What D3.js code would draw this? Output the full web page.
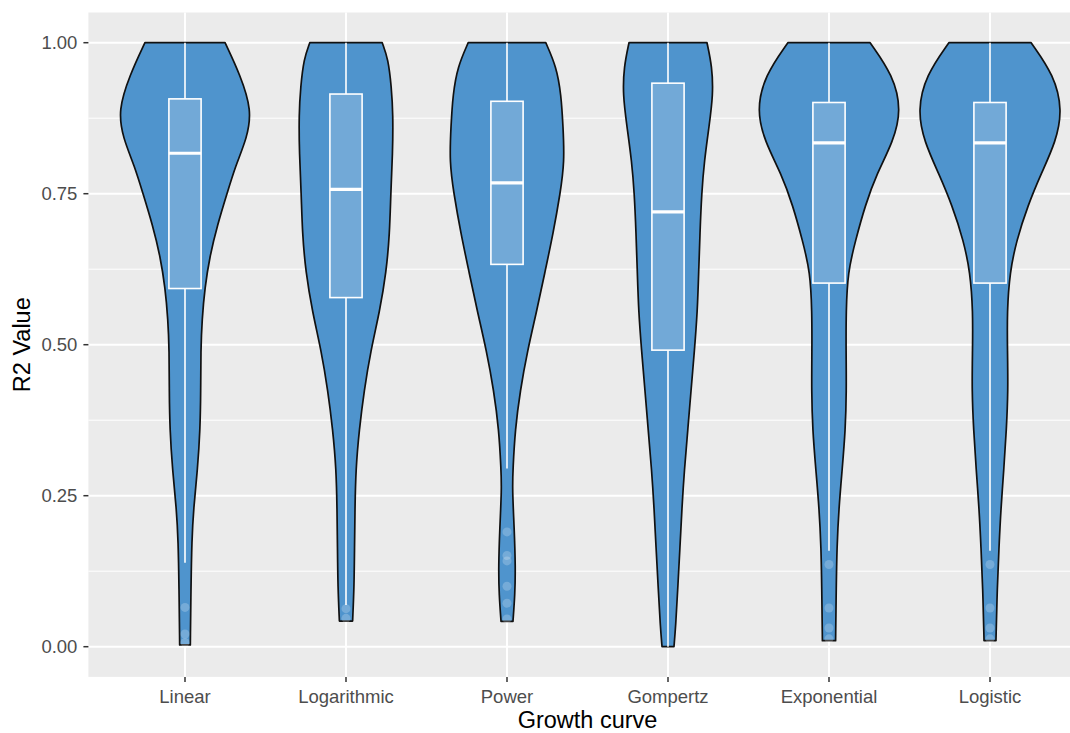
<!DOCTYPE html>
<html>
<head>
<meta charset="utf-8">
<script src="https://cdn.jsdelivr.net/npm/d3@7"></script>
<style>
  html, body { margin: 0; padding: 0; background: #fff; }
  svg { display: block; font-family: "Liberation Sans", Arial, sans-serif; }
</style>
</head>
<body>
<svg id="chart" width="1070" height="733"></svg>
<script>
// Growth curve fits: distribution of R2 values per curve type
const categories = ["Linear", "Logarithmic", "Power", "Gompertz", "Exponential", "Logistic"];

// Kernel density profiles: [R2 value, density]
const linearDensity = [[1.00,1.88],[0.946,2.60],[0.888,3.14],[0.842,2.91],[0.796,2.37],[0.751,1.98],[0.698,1.52],[0.646,1.16],[0.594,0.93],[0.542,0.80],[0.490,0.74],[0.424,0.74],[0.359,0.71],[0.294,0.59],[0.228,0.40],[0.176,0.32],[0.098,0.28],[0.003,0.25]];
const logarithmicDensity = [[1.00,1.70],[0.973,1.98],[0.927,2.13],[0.881,2.21],[0.816,2.19],[0.751,2.10],[0.685,2.05],[0.620,1.89],[0.555,1.58],[0.490,1.16],[0.424,0.85],[0.359,0.62],[0.294,0.46],[0.228,0.42],[0.163,0.40],[0.098,0.38],[0.0425,0.31]];
const powerDensity = [[1.00,1.82],[0.960,2.32],[0.914,2.54],[0.862,2.63],[0.803,2.70],[0.751,2.50],[0.685,2.17],[0.620,1.78],[0.555,1.39],[0.490,0.96],[0.424,0.62],[0.359,0.38],[0.294,0.28],[0.261,0.25],[0.196,0.34],[0.131,0.40],[0.085,0.37],[0.042,0.28]];
const gompertzDensity = [[1.00,1.83],[0.960,2.07],[0.914,2.12],[0.862,1.93],[0.803,1.70],[0.751,1.58],[0.685,1.50],[0.620,1.44],[0.555,1.38],[0.490,1.24],[0.424,1.08],[0.359,0.93],[0.294,0.77],[0.228,0.65],[0.163,0.56],[0.098,0.46],[0.033,0.36],[0.000,0.28]];
const exponentialDensity = [[1.00,1.93],[0.946,3.01],[0.888,3.40],[0.836,3.01],[0.783,2.24],[0.731,1.70],[0.672,1.24],[0.620,0.88],[0.555,0.80],[0.490,0.80],[0.424,0.82],[0.359,0.77],[0.294,0.62],[0.228,0.46],[0.163,0.37],[0.098,0.34],[0.010,0.31]];
const logisticDensity = [[1.00,1.93],[0.946,3.01],[0.888,3.40],[0.836,3.09],[0.783,2.40],[0.731,1.78],[0.672,1.24],[0.620,0.93],[0.555,0.80],[0.490,0.82],[0.424,0.85],[0.359,0.77],[0.294,0.65],[0.228,0.51],[0.163,0.42],[0.098,0.34],[0.010,0.28]];

// Box plot summaries
const q1Values     = [0.593, 0.578, 0.633, 0.491, 0.602, 0.602];
const medianValues = [0.817, 0.757, 0.768, 0.720, 0.834, 0.834];
const q3Values     = [0.907, 0.915, 0.903, 0.933, 0.901, 0.901];
const whiskerLow   = [0.139, 0.069, 0.295, 0.000, 0.159, 0.159];
const whiskerHigh  = [1.000, 1.000, 1.000, 1.000, 1.000, 1.000];

// Outlying fits
const linearOutliers = [0.065, 0.021, 0.007];
const logarithmicOutliers = [0.063, 0.047];
const powerOutliers = [0.190, 0.151, 0.142, 0.100, 0.072, 0.046];
const gompertzOutliers = [];
const exponentialOutliers = [0.136, 0.064, 0.031, 0.013];
const logisticOutliers = [0.136, 0.064, 0.031, 0.013];

const yTicks = [0, 0.25, 0.5, 0.75, 1.0];
const yMinor = [0.125, 0.375, 0.625, 0.875];

const densities = [linearDensity, logarithmicDensity, powerDensity, gompertzDensity, exponentialDensity, logisticDensity];
const outliers = [linearOutliers, logarithmicOutliers, powerOutliers, gompertzOutliers, exponentialOutliers, logisticOutliers];

const svg = d3.select("#chart");
const panel = { left: 88.4, top: 12.5, right: 1086.6, bottom: 676.9 };

const x = d3.scalePoint()
  .domain(categories)
  .range([panel.left, panel.right])
  .padding(0.6);
const step = x.step();

const y = d3.scaleLinear()
  .domain([-0.05, 1.05])
  .range([panel.bottom, panel.top]);

const maxDensity = d3.max(densities, d => d3.max(d, p => p[1]));
const halfWidth = d3.scaleLinear().domain([0, maxDensity]).range([0, step * 0.45]);

// Panel background
svg.append("rect")
  .attr("x", panel.left).attr("y", panel.top)
  .attr("width", panel.right - panel.left)
  .attr("height", panel.bottom - panel.top)
  .attr("fill", "#EBEBEB");

const grid = svg.append("g");
grid.selectAll(".minor").data(yMinor).join("line")
  .attr("x1", panel.left).attr("x2", panel.right)
  .attr("y1", d => y(d)).attr("y2", d => y(d))
  .attr("stroke", "#fff").attr("stroke-width", 1);
grid.selectAll(".major").data(yTicks).join("line")
  .attr("x1", panel.left).attr("x2", panel.right)
  .attr("y1", d => y(d)).attr("y2", d => y(d))
  .attr("stroke", "#fff").attr("stroke-width", 2);
grid.selectAll(".vmajor").data(categories).join("line")
  .attr("x1", d => x(d)).attr("x2", d => x(d))
  .attr("y1", panel.top).attr("y2", panel.bottom)
  .attr("stroke", "#fff").attr("stroke-width", 2);

// Violins
const violinFill = "#4F94CD";
categories.forEach((cat, i) => {
  const cx = x(cat);
  const area = d3.area()
    .curve(d3.curveBasis)
    .y(d => y(d[0]))
    .x0(d => cx - halfWidth(d[1]))
    .x1(d => cx + halfWidth(d[1]));
  svg.append("path")
    .datum(densities[i])
    .attr("d", area)
    .attr("fill", violinFill)
    .attr("stroke", "#111")
    .attr("stroke-width", 1.7)
    .attr("stroke-linejoin", "round");
});

// Box plots
const boxW = step * 0.2;
const boxes = svg.append("g");
categories.forEach((cat, i) => {
  const cx = x(cat);
  const g = boxes.append("g");
  g.append("line")
    .attr("x1", cx).attr("x2", cx)
    .attr("y1", y(q3Values[i])).attr("y2", y(whiskerHigh[i]))
    .attr("stroke", "#fff").attr("stroke-width", 1.6);
  g.append("line")
    .attr("x1", cx).attr("x2", cx)
    .attr("y1", y(q1Values[i])).attr("y2", y(whiskerLow[i]))
    .attr("stroke", "#fff").attr("stroke-width", 1.6);
  g.append("rect")
    .attr("x", cx - boxW / 2).attr("width", boxW)
    .attr("y", y(q3Values[i]))
    .attr("height", y(q1Values[i]) - y(q3Values[i]))
    .attr("fill", "rgba(255,255,255,0.2)")
    .attr("stroke", "#fff").attr("stroke-width", 1.6);
  g.append("line")
    .attr("x1", cx - boxW / 2).attr("x2", cx + boxW / 2)
    .attr("y1", y(medianValues[i])).attr("y2", y(medianValues[i]))
    .attr("stroke", "#fff").attr("stroke-width", 3.2);
  g.selectAll("circle").data(outliers[i]).join("circle")
    .attr("cx", cx).attr("cy", d => y(d)).attr("r", 4.5)
    .attr("fill", "rgba(255,255,255,0.22)");
});

// Axes
const tickColor = "#333";
const labelColor = "#4D4D4D";
const yAxis = svg.append("g");
yAxis.selectAll("line").data(yTicks).join("line")
  .attr("x1", panel.left - 5).attr("x2", panel.left)
  .attr("y1", d => y(d)).attr("y2", d => y(d))
  .attr("stroke", tickColor).attr("stroke-width", 1.5);
yAxis.selectAll("text").data(yTicks).join("text")
  .attr("x", panel.left - 11).attr("y", d => y(d))
  .attr("dy", "0.35em")
  .attr("text-anchor", "end")
  .attr("font-size", 18.5).attr("fill", labelColor)
  .text(d => d3.format(".2f")(d));

const xAxis = svg.append("g");
xAxis.selectAll("line").data(categories).join("line")
  .attr("x1", d => x(d)).attr("x2", d => x(d))
  .attr("y1", panel.bottom).attr("y2", panel.bottom + 5)
  .attr("stroke", tickColor).attr("stroke-width", 1.5);
xAxis.selectAll("text").data(categories).join("text")
  .attr("x", d => x(d)).attr("y", panel.bottom + 26)
  .attr("text-anchor", "middle")
  .attr("font-size", 18.5).attr("fill", labelColor)
  .text(d => d);

svg.append("text")
  .attr("x", (panel.left + panel.right) / 2).attr("y", 728)
  .attr("text-anchor", "middle")
  .attr("font-size", 23.5).attr("fill", "#000")
  .text("Growth curve");

svg.append("text")
  .attr("transform", `translate(30,${(panel.top + panel.bottom) / 2}) rotate(-90)`)
  .attr("text-anchor", "middle")
  .attr("font-size", 23.5).attr("fill", "#000")
  .text("R2 Value");
</script>
</body>
</html>
